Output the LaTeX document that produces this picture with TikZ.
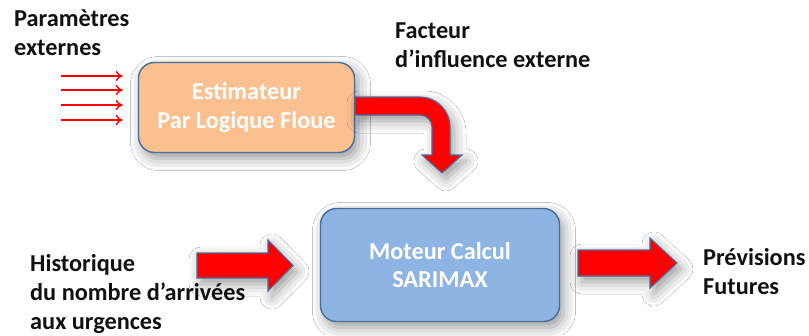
\documentclass[tikz,border=0pt]{standalone}
\usepackage{fontspec}
\setmainfont{Carlito}
\usetikzlibrary{arrows.meta,shadows.blur}
\definecolor{orangefill}{HTML}{FAC090}
\definecolor{bluefill}{HTML}{8EB4E3}
\definecolor{edgeblue}{HTML}{4A6D9A}
\definecolor{arrowred}{HTML}{FF0000}
\definecolor{textblack}{HTML}{111111}
\begin{document}
\begin{tikzpicture}[x=1pt,y=-1pt,
  lbl/.style={font=\fontsize{24.3}{29}\selectfont\bfseries, text=textblack, align=left, anchor=north west, inner sep=0pt},
  softshadow/.style={blur shadow={shadow xshift=4pt, shadow yshift=-6pt, shadow blur radius=12pt, shadow opacity=40}},
  procbox/.style={draw=edgeblue, line width=1.4pt, rounded corners=16pt, font=\fontsize{24.3}{28.5}\selectfont\bfseries, text=white, align=center, softshadow},
  fatarrow/.style={fill=arrowred, draw=edgeblue, line width=1.1pt, line join=miter, softshadow},
  thinarrow/.style={draw=arrowred, line width=1.4pt, -{To[length=7pt,width=10pt]}}]
\useasboundingbox (0,0) rectangle (809,335);
\fill[white] (0,0) rectangle (809,335);

% boxes
\node[procbox, fill=orangefill, minimum width=216pt, minimum height=90pt] (est) at (246.5,107.5) {Estimateur\\Par Logique Floue};
\node[procbox, fill=bluefill, minimum width=239pt, minimum height=113pt] (mot) at (440,265) {Moteur Calcul\\SARIMAX};

% labels
\node[lbl] (par) at (14,10) {Paramètres\\externes};
\node[lbl] (fac) at (395,23) {Facteur\\d’influence externe};
\node[lbl] (his) at (30,254) {Historique\\du nombre d’arrivées\\aux urgences};
\node[lbl] (prev) at (703,248) {Prévisions\\Futures};

% thin input arrows
\coordinate (t1) at (61,76);
\coordinate (t2) at (61,90);
\coordinate (t3) at (61,105);
\coordinate (t4) at (61,120);
\foreach \t in {t1,t2,t3,t4}
  \draw[thinarrow, shorten >=15pt] (\t) -- (\t -| est.west);

% bent arrow from estimator to engine
\draw[fatarrow] (355,97) -- (420,97) .. controls (436.6,97) and (450,110.4) .. (450,127)
  -- (450,155) -- (462,155) -- (442,173) -- (422,155) -- (432,155) -- (432,127)
  .. controls (432,120.4) and (426.6,115) .. (420,115) -- (355,115) -- cycle;

% fat arrows
\draw[fatarrow] (197,253) -- (268,253) -- (268,240) -- (293,265.5) -- (268,291) -- (268,278) -- (197,278) -- cycle;
\draw[fatarrow] (578,250) -- (650,250) -- (650,238) -- (677,263) -- (650,288) -- (650,276) -- (578,276) -- cycle;
\end{tikzpicture}
\end{document}
